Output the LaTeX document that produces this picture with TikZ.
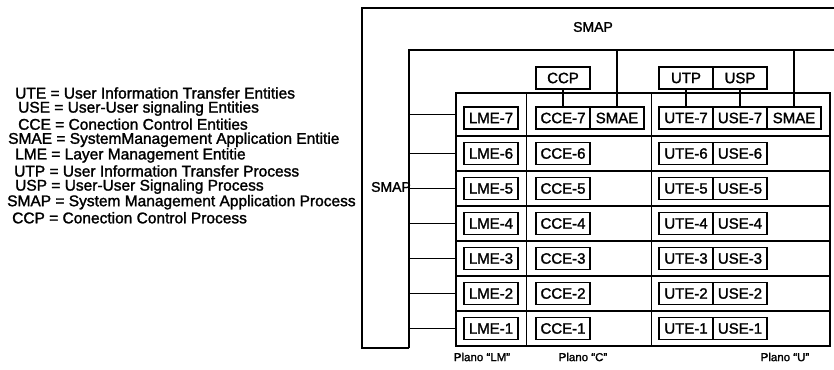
\documentclass[tikz,border=0pt]{standalone}
\usepackage{fontspec}
\setmainfont{Liberation Sans}[FakeBold=1.6]
\usetikzlibrary{calc}
\tikzset{
  frm/.style={line width=1.6pt},
  lnk/.style={line width=1.4pt},
  rowbox/.style={draw, line width=1.4pt, minimum width=374pt,
                 minimum height=35pt, inner sep=0pt},
  ent/.style={draw, line width=1.4pt, minimum width=54pt,
              minimum height=22pt, inner sep=1pt,
              font=\fontsize{15}{16}\selectfont},
  lbl/.style={font=\fontsize{14}{15}\selectfont, inner sep=0pt},
  plano/.style={font=\fontsize{11.5}{12}\selectfont, inner sep=0pt},
  leg/.style={anchor=west, inner sep=0pt, font=\fontsize{15.5}{16}\selectfont},
}
\def\Xlme{491}
\def\Xcce{563}
\def\Xute{686}
\def\Xuse{740}

\begin{document}
\begin{tikzpicture}[x=1pt, y=-1pt]
\useasboundingbox (0,0) rectangle (834,369);
\clip (0,0) rectangle (834,369);

%% ============================================================
%% LEGEND
%% ============================================================
\foreach \lx/\ly/\txt [count=\i] in {
  15/93/{UTE = User Information Transfer Entities},
  18/108.6/{USE = User-User signaling Entities},
  18/124.2/{CCE = Conection Control Entities},
  8/139.8/{SMAE = SystemManagement Application Entitie},
  15/155.4/{LME = Layer Management Entitie},
  14/171/{UTP = User Information Transfer Process},
  15/186.6/{USP = User-User Signaling Process},
  7/202.2/{SMAP = System Management Application Process},
  12/217.8/{CCP = Conection Control Process}}
  \node[leg] (leg\i) at (\lx,\ly) {\txt};

%% ============================================================
%% FRAMES
%% ============================================================
%% --- outer SMAP frame (runs off the right edge) ---
\coordinate (smapTL) at (362,8);
\coordinate (smapBL) at (362,348);
\coordinate (innTL)  at (409,50);
\coordinate (innBL)  at (409,348);
\draw[frm] (880,8) -- (smapTL) -- (smapBL) -- (innBL);
\draw[frm] (880,50) -- (innTL) -- (innBL);

\node[lbl] (smapTop)  at (593,27)  {SMAP};
\node[lbl] (smapLeft) at (391,187) {SMAP};

%% ============================================================
%% GRID OF ENTITIES
%% ============================================================
%% --- row 7 (top, taller) ---
\node[rowbox, minimum height=43pt] (row7) at (643,114.5) {};
\node[ent] (lme7)  at (\Xlme,118) {LME-7};
\node[ent] (cce7)  at (\Xcce,118) {CCE-7};
\node[ent] (smaeC) at ($(\Xcce,118)+(54,0)$) {SMAE};
\node[ent] (ute7)  at (\Xute,118) {UTE-7};
\node[ent] (use7)  at (\Xuse,118) {USE-7};
\node[ent] (smaeU) at ($(\Xuse,118)+(54,0)$) {SMAE};

%% --- rows 1..6 ---
\foreach \r in {1,...,6}{
  \pgfmathsetmacro\yc{346-35*(\r-0.5)}
  \node[rowbox] (row\r) at (643,\yc) {};
  \node[ent] (lme\r) at (\Xlme,\yc) {LME-\r};
  \node[ent] (cce\r) at (\Xcce,\yc) {CCE-\r};
  \node[ent] (ute\r) at (\Xute,\yc) {UTE-\r};
  \node[ent] (use\r) at (\Xuse,\yc) {USE-\r};
}

%% column dividers
\draw[lnk] ([xshift=71pt]row7.north west)  -- ([xshift=71pt]row1.south west);
\draw[lnk] ([xshift=196pt]row7.north west) -- ([xshift=196pt]row1.south west);

%% links from inner SMAP frame into each layer
\foreach \r in {1,...,7}
  \draw[lnk] (row\r.west) -- (innTL |- row\r.west);

%% ============================================================
%% PROCESSES
%% ============================================================
\node[ent] (ccp) at (\Xcce,78) {CCP};
\node[ent] (utp) at (\Xute,78) {UTP};
\node[ent] (usp) at (\Xuse,78) {USP};

\draw[lnk] (ccp) -- (cce7);
\draw[lnk] (utp) -- (ute7);
\draw[lnk] (usp) -- (use7);
\draw[lnk] (smaeC.north) -- (smaeC.north |- innTL);
\draw[lnk] (smaeU.north) -- (smaeU.north |- innTL);

%% plane labels
\node[plano] (plLM) at (482,357) {Plano “LM”};
\node[plano] (plC)  at (583,357) {Plano “C”};
\node[plano] (plU)  at (785,357) {Plano “U”};

\end{tikzpicture}
\end{document}
